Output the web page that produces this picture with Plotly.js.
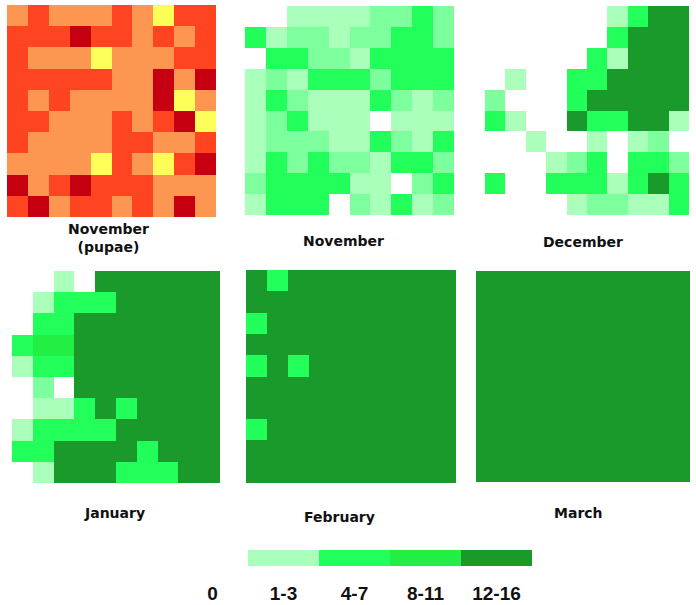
<!DOCTYPE html>
<html>
<head>
<meta charset="utf-8">
<script src="https://cdn.plot.ly/plotly-3.0.1.min.js"></script>
<style>body{margin:0;background:#fff}</style>
</head>
<body>
<div id="chart" style="width:696px;height:605px"></div>
<script>
// grid cells, rows listed top to bottom
// pupae levels: 1 yellow, 2 orange, 3 red, 4 dark red
var novPupae = [
  [2,3,2,2,2,3,2,1,3,3],
  [3,3,3,4,3,3,2,3,2,3],
  [3,2,2,2,1,2,2,2,3,3],
  [3,3,3,3,3,2,2,4,2,4],
  [3,2,3,2,2,2,2,4,1,2],
  [3,3,2,2,2,3,2,3,4,1],
  [3,2,2,2,2,3,3,2,2,3],
  [2,2,2,2,1,3,2,1,3,4],
  [4,2,3,4,3,3,3,2,2,2],
  [3,4,2,3,3,2,3,2,4,2]
];
// count levels: 0 none, 1 = 1-3, 2 = upper 1-3, 3 = 4-7, 4 = 8-11, 5 = 12-16
var nov = [
  [0,0,1,1,1,1,2,2,3,2],
  [3,1,2,2,1,2,2,3,3,2],
  [0,3,3,2,2,1,3,3,3,3],
  [1,2,1,3,3,3,2,3,3,3],
  [1,3,2,1,1,1,3,2,1,2],
  [1,2,3,1,1,1,0,1,1,1],
  [1,2,2,2,1,1,3,2,1,3],
  [1,3,2,3,2,2,1,3,3,2],
  [2,3,3,3,3,1,1,0,2,3],
  [1,3,3,3,0,2,1,3,1,2]
];
var dec = [
  [0,0,0,0,0,0,1,3,5,5],
  [0,0,0,0,0,0,3,5,5,5],
  [0,0,0,0,0,3,1,5,5,5],
  [0,1,0,0,3,3,5,5,5,5],
  [2,0,0,0,3,5,5,5,5,5],
  [3,1,0,0,5,3,3,5,5,1],
  [0,0,1,0,0,1,0,1,2,0],
  [0,0,0,1,2,3,0,3,3,2],
  [3,0,0,3,3,3,1,3,5,3],
  [0,0,0,0,1,2,2,1,1,3]
];
var jan = [
  [0,0,1,0,5,5,5,5,5,5],
  [0,1,3,3,3,5,5,5,5,5],
  [0,3,3,5,5,5,5,5,5,5],
  [3,4,4,5,5,5,5,5,5,5],
  [1,3,3,5,5,5,5,5,5,5],
  [0,2,0,5,5,5,5,5,5,5],
  [0,1,1,3,5,3,5,5,5,5],
  [1,3,3,3,3,5,5,5,5,5],
  [3,3,5,5,5,5,3,5,5,5],
  [0,1,5,5,5,3,3,3,5,5]
];
var feb = [
  [5,3,5,5,5,5,5,5,5,5],
  [5,5,5,5,5,5,5,5,5,5],
  [3,5,5,5,5,5,5,5,5,5],
  [5,5,5,5,5,5,5,5,5,5],
  [3,5,3,5,5,5,5,5,5,5],
  [5,5,5,5,5,5,5,5,5,5],
  [5,5,5,5,5,5,5,5,5,5],
  [3,5,5,5,5,5,5,5,5,5],
  [5,5,5,5,5,5,5,5,5,5],
  [5,5,5,5,5,5,5,5,5,5]
];
var mar = [
  [5,5,5,5,5,5,5,5,5,5],
  [5,5,5,5,5,5,5,5,5,5],
  [5,5,5,5,5,5,5,5,5,5],
  [5,5,5,5,5,5,5,5,5,5],
  [5,5,5,5,5,5,5,5,5,5],
  [5,5,5,5,5,5,5,5,5,5],
  [5,5,5,5,5,5,5,5,5,5],
  [5,5,5,5,5,5,5,5,5,5],
  [5,5,5,5,5,5,5,5,5,5],
  [5,5,5,5,5,5,5,5,5,5]
];
var panelNames = ['November<br>(pupae)', 'November', 'December', 'January', 'February', 'March'];
var legendLabels = ['0', '1-3', '4-7', '8-11', '12-16'];
var legendLevels = [0, 1, 3, 4, 5];

var W = 696, H = 605;
var warmScale = [[0, '#ffff5a'], [1/3, '#fd9650'], [2/3, '#fe4420'], [1, '#c60010']];
var greenScale = [[0, '#ffffff'], [0.2, '#aaffbb'], [0.4, '#7dff9e'], [0.6, '#22ff5a'], [0.8, '#22ee44'], [1, '#1a9a2a']];

// pixel boxes [x0, x1, y0, y1] and title centres
var boxes = [
  [7, 216, 5, 217], [245, 454, 6, 215], [485, 689, 6, 215],
  [12, 220, 271, 483], [246, 456, 270, 483], [476, 690, 271, 482]
];
var titlePos = [[109, 238], [343, 241], [583, 242], [114, 513], [339, 517], [578, 513]];
var grids = [novPupae, nov, dec, jan, feb, mar];

var data = [];
var layout = {
  width: W, height: H,
  margin: {l: 0, r: 0, t: 0, b: 0},
  paper_bgcolor: '#fff', plot_bgcolor: '#fff',
  showlegend: false,
  annotations: []
};

grids.forEach(function (g, i) {
  var n = i + 1, b = boxes[i];
  data.push({
    type: 'heatmap', z: g,
    xaxis: 'x' + n, yaxis: 'y' + n,
    colorscale: i === 0 ? warmScale : greenScale,
    zmin: i === 0 ? 1 : 0, zmax: i === 0 ? 4 : 5,
    showscale: false, hoverinfo: 'skip'
  });
  layout['xaxis' + n] = {
    domain: [b[0] / W, b[1] / W], anchor: 'y' + n, range: [-0.5, 9.5],
    showgrid: false, zeroline: false, showticklabels: false, ticks: ''
  };
  layout['yaxis' + n] = {
    domain: [1 - b[3] / H, 1 - b[2] / H], anchor: 'x' + n, range: [9.5, -0.5],
    showgrid: false, zeroline: false, showticklabels: false, ticks: ''
  };
  layout.annotations.push({
    xref: 'paper', yref: 'paper', x: titlePos[i][0] / W, y: 1 - titlePos[i][1] / H,
    xanchor: 'center', yanchor: 'middle', showarrow: false,
    text: '<b>' + panelNames[i] + '</b>',
    font: {family: 'DejaVu Sans', size: 14, color: '#111'}
  });
});

// legend strip
data.push({
  type: 'heatmap', z: [legendLevels], x: legendLabels,
  xaxis: 'x7', yaxis: 'y7', colorscale: greenScale, zmin: 0, zmax: 5,
  showscale: false, hoverinfo: 'skip'
});
layout.xaxis7 = {
  domain: [177 / W, 532 / W], anchor: 'y7', type: 'category',
  showgrid: false, zeroline: false, ticks: 'outside', ticklen: 10, tickcolor: 'rgba(0,0,0,0)',
  tickfont: {family: 'Liberation Sans', size: 19, color: '#111', weight: 'bold'}
};
layout.yaxis7 = {
  domain: [1 - 566 / H, 1 - 550 / H], anchor: 'x7',
  showgrid: false, zeroline: false, showticklabels: false, ticks: ''
};

Plotly.newPlot('chart', data, layout, {staticPlot: true});
</script>
</body>
</html>
